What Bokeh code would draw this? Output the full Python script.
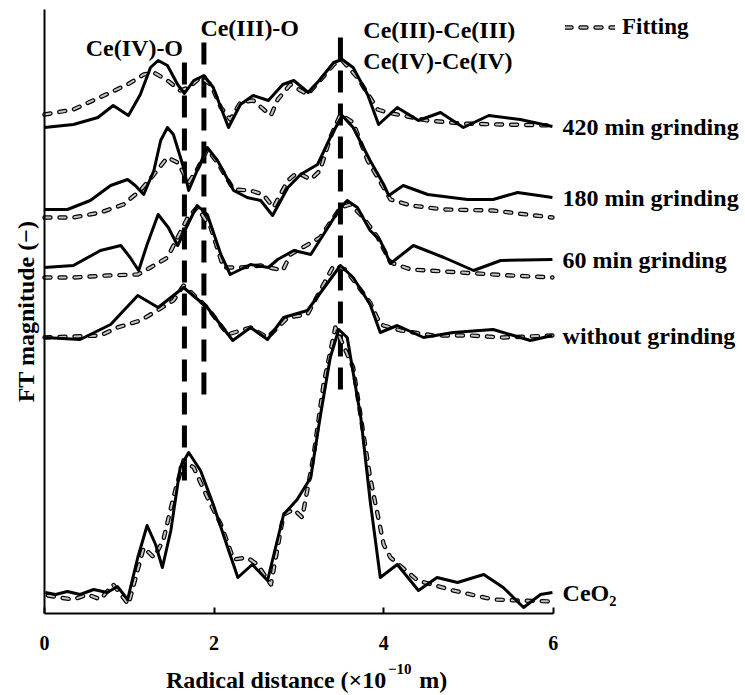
from bokeh.plotting import figure
from bokeh.models import Range1d, Label, Legend, LegendItem, FixedTicker
from bokeh.embed import file_html
from bokeh.resources import INLINE

FONT = "Liberation Serif"

# ---- data (x: radial distance / 1e-10 m, y: FT magnitude, offset per sample) ----
x_420 = [0.0, 0.34, 0.63, 0.81, 0.99, 1.13, 1.25, 1.34, 1.45, 1.57, 1.65, 1.76, 1.88, 1.99, 2.08, 2.17,
         2.31, 2.46, 2.64, 2.81, 2.94, 3.11, 3.25, 3.41, 3.51, 3.64, 3.81, 3.94, 4.16, 4.41, 4.67, 4.94,
         5.24, 5.61, 5.99]
y_420 = [4.86, 4.89, 4.96, 5.08, 4.98, 5.19, 5.46, 5.53, 5.48, 5.29, 5.20, 5.33, 5.38, 5.26, 5.06, 4.86,
         5.09, 5.18, 5.13, 5.29, 5.33, 5.21, 5.34, 5.51, 5.54, 5.46, 5.19, 4.89, 5.06, 4.93, 5.01, 4.86,
         4.98, 4.94, 4.87]
xf_420 = [0.0, 0.34, 0.70, 0.98, 1.17, 1.29, 1.45, 1.60, 1.70, 1.84, 1.96, 2.08, 2.19, 2.31, 2.46, 2.67,
          2.75, 2.90, 3.10, 3.25, 3.41, 3.51, 3.69, 3.84, 3.93, 4.04, 4.52, 4.91, 5.38, 5.99]
yf_420 = [4.99, 5.04, 5.18, 5.29, 5.39, 5.41, 5.33, 5.23, 5.26, 5.36, 5.29, 5.06, 4.94, 5.11, 5.13, 4.98,
          5.14, 5.29, 5.19, 5.33, 5.49, 5.53, 5.36, 5.16, 5.04, 5.01, 4.93, 4.90, 4.89, 4.88]

x_180 = [0.0, 0.27, 0.54, 0.78, 0.98, 1.07, 1.17, 1.29, 1.37, 1.45, 1.52, 1.64, 1.70, 1.80, 1.92, 2.04,
         2.23, 2.39, 2.55, 2.69, 2.87, 3.02, 3.22, 3.37, 3.51, 3.64, 3.84, 4.00, 4.06, 4.23, 4.52, 4.99,
         5.29, 5.58, 5.99]
y_180 = [4.04, 4.04, 4.13, 4.28, 4.34, 4.28, 4.19, 4.43, 4.73, 4.86, 4.79, 4.46, 4.23, 4.43, 4.66, 4.53,
         4.23, 4.16, 4.13, 3.98, 4.26, 4.39, 4.49, 4.76, 4.98, 4.86, 4.53, 4.29, 4.18, 4.28, 4.19, 4.14,
         4.14, 4.21, 4.16]
xf_180 = [0.0, 0.34, 0.66, 0.93, 1.13, 1.29, 1.45, 1.57, 1.70, 1.80, 1.92, 2.04, 2.23, 2.43, 2.58, 2.70,
          2.87, 2.98, 3.14, 3.25, 3.37, 3.49, 3.64, 3.81, 3.93, 4.08, 4.32, 4.71, 5.29, 5.99]
yf_180 = [3.96, 3.96, 4.01, 4.09, 4.23, 4.39, 4.56, 4.51, 4.31, 4.44, 4.64, 4.51, 4.24, 4.23, 4.19, 4.06,
          4.33, 4.41, 4.34, 4.43, 4.76, 4.99, 4.91, 4.53, 4.36, 4.14, 4.08, 4.04, 4.03, 3.96]

x_60 = [0.0, 0.34, 0.66, 0.90, 1.01, 1.11, 1.21, 1.34, 1.46, 1.57, 1.69, 1.80, 1.92, 2.08, 2.19, 2.43,
        2.64, 2.75, 2.94, 3.14, 3.29, 3.49, 3.57, 3.69, 3.84, 3.96, 4.08, 4.35, 4.71, 5.06, 5.38, 5.99]
y_60 = [3.46, 3.48, 3.63, 3.68, 3.56, 3.43, 3.69, 3.99, 3.86, 3.68, 3.89, 4.08, 3.99, 3.59, 3.39, 3.49,
        3.46, 3.54, 3.63, 3.59, 3.79, 4.06, 4.13, 4.06, 3.83, 3.73, 3.50, 3.68, 3.56, 3.43, 3.53, 3.54]
xf_60 = [0.0, 0.34, 0.74, 1.10, 1.25, 1.45, 1.57, 1.69, 1.80, 1.96, 2.11, 2.31, 2.55, 2.81, 2.90, 3.25,
         3.49, 3.61, 3.76, 3.93, 4.08, 4.32, 4.91, 5.50, 5.99]
yf_60 = [3.36, 3.36, 3.38, 3.39, 3.46, 3.56, 3.76, 3.96, 4.06, 3.86, 3.46, 3.46, 3.48, 3.43, 3.59, 3.76,
         4.06, 4.09, 3.96, 3.76, 3.51, 3.44, 3.41, 3.38, 3.36]

x_wo = [0.0, 0.42, 0.78, 1.10, 1.34, 1.64, 1.92, 2.22, 2.43, 2.63, 2.82, 3.10, 3.49, 3.64, 3.84, 3.96,
        4.16, 4.47, 4.82, 5.29, 5.73, 5.99]
y_wo = [2.76, 2.74, 2.89, 3.18, 3.06, 3.26, 3.06, 2.73, 2.86, 2.74, 2.96, 3.03, 3.48, 3.36, 3.09, 2.81,
        2.88, 2.76, 2.81, 2.84, 2.73, 2.78]
xf_wo = [0.0, 0.66, 0.86, 1.13, 1.33, 1.52, 1.64, 1.92, 2.16, 2.43, 2.63, 2.87, 3.10, 3.41, 3.55, 3.84,
         3.96, 4.20, 4.59, 5.02, 5.41, 5.99]
yf_wo = [2.76, 2.78, 2.86, 2.93, 3.03, 3.13, 3.28, 3.06, 2.79, 2.86, 2.76, 2.96, 2.99, 3.48, 3.44, 3.11,
         2.89, 2.83, 2.78, 2.78, 2.76, 2.78]

x_ceo2 = [0.01, 0.13, 0.27, 0.42, 0.58, 0.74, 0.86, 0.98, 1.10, 1.21, 1.31, 1.39, 1.49, 1.60, 1.70, 1.84,
          1.99, 2.16, 2.28, 2.45, 2.63, 2.82, 2.98, 3.14, 3.25, 3.37, 3.47, 3.57, 3.73, 3.84, 3.96, 4.16,
          4.41, 4.63, 4.87, 5.18, 5.41, 5.65, 5.85, 5.99]
y_ceo2 = [0.21, 0.19, 0.22, 0.19, 0.24, 0.21, 0.27, 0.14, 0.56, 0.88, 0.69, 0.46, 0.83, 1.46, 1.61, 1.43,
          1.09, 0.66, 0.36, 0.49, 0.33, 0.99, 1.14, 1.36, 1.96, 2.56, 2.84, 2.76, 1.96, 1.13, 0.36, 0.49,
          0.23, 0.36, 0.31, 0.39, 0.26, 0.06, 0.19, 0.21]
xf_ceo2 = [0.04, 0.17, 0.34, 0.51, 0.66, 0.81, 0.99, 1.17, 1.29, 1.40, 1.52, 1.64, 1.76, 1.92, 2.08, 2.23,
           2.39, 2.51, 2.67, 2.82, 2.94, 3.04, 3.17, 3.29, 3.43, 3.64, 3.84, 4.00, 4.08, 4.40, 4.82, 5.29,
           5.61, 5.99]
yf_ceo2 = [0.18, 0.16, 0.14, 0.19, 0.14, 0.29, 0.09, 0.66, 0.56, 0.73, 1.16, 1.53, 1.46, 1.16, 0.89, 0.54,
           0.56, 0.49, 0.29, 0.99, 1.04, 0.96, 1.56, 2.29, 2.86, 2.46, 1.36, 0.69, 0.56, 0.33, 0.23, 0.14,
           0.13, 0.12]

series_labels = ["420 min grinding", "180 min grinding", "60 min grinding", "without grinding", "CeO\u2082"]

# reference lines (bond assignments)
ref_x = [1.65, 1.88, 3.49]
ref_y_top = [5.51, 5.71, 5.76]
ref_y_bottom = [1.28, 2.13, 2.18]
ref_names = ["Ce(IV)-O", "Ce(III)-O", "Ce(III)-Ce(III)", "Ce(IV)-Ce(IV)"]

x_ticks = [0, 2, 4, 6]
x_min, x_max = 0, 6
y_min, y_max = 0, 6.04

TXT = dict(text_font=FONT, text_font_style="bold", text_color="black")

# ---- figure: the frame covers the canvas, axes are fixed at the data origin ----
p = figure(width=745, height=695, output_backend="svg", toolbar_location=None,
           x_range=Range1d(-0.519, 8.267), y_range=Range1d(-0.82, 6.13),
           min_border=0)
p.outline_line_color = None
p.grid.visible = False
p.background_fill_color = "white"

p.xaxis.fixed_location = 0
p.xaxis.bounds = (x_min, x_max)
p.xaxis.ticker = FixedTicker(ticks=x_ticks)
p.xaxis.major_tick_in = 6
p.xaxis.major_tick_out = 0
p.xaxis.minor_tick_line_color = None
p.xaxis.major_tick_line_width = 2
p.xaxis.axis_line_width = 2
p.xaxis.axis_line_color = "black"
p.xaxis.major_label_text_font = FONT
p.xaxis.major_label_text_font_style = "bold"
p.xaxis.major_label_text_font_size = "20px"
p.xaxis.major_label_text_color = "black"
p.xaxis.major_label_standoff = 22

p.yaxis.fixed_location = 0
p.yaxis.bounds = (y_min, y_max)
p.yaxis.ticker = FixedTicker(ticks=[])
p.yaxis.major_tick_line_color = None
p.yaxis.minor_tick_line_color = None
p.yaxis.axis_line_width = 2
p.yaxis.axis_line_color = "black"
p.yaxis.axis_label = "FT magnitude (\u2212)"
p.yaxis.axis_label_text_font = FONT
p.yaxis.axis_label_text_font_style = "bold"
p.yaxis.axis_label_text_font_size = "24px"
p.yaxis.axis_label_text_color = "black"
p.yaxis.axis_label_standoff = 6

# x-axis title (with a raised exponent)
p.add_layout(Label(x=4.03, y=-0.66, text="Radical distance (\u00d710", text_font_size="24px",
                   text_align="right", text_baseline="alphabetic", **TXT))
p.add_layout(Label(x=4.05, y=-0.55, text="\u221210", text_font_size="15px",
                   text_align="left", text_baseline="alphabetic", **TXT))
p.add_layout(Label(x=4.42, y=-0.66, text="m)", text_font_size="24px",
                   text_align="left", text_baseline="alphabetic", **TXT))

# reference dashed verticals
for xv, yt, yb in zip(ref_x, ref_y_top, ref_y_bottom):
    p.line([xv, xv], [yt, yb], line_color="black", line_width=5, line_dash="22 11")

solid = [(x_420, y_420), (x_180, y_180), (x_60, y_60), (x_wo, y_wo), (x_ceo2, y_ceo2)]
fits = [(xf_420, yf_420), (xf_180, yf_180), (xf_60, yf_60), (xf_wo, yf_wo), (xf_ceo2, yf_ceo2)]

fit_renderers = None
for (xs, ys) in fits:
    r1 = p.line(xs, ys, line_color="black", line_width=4.4, line_dash="6 9", line_cap="round",
                line_join="round")
    r2 = p.line(xs, ys, line_color="#c4c4c4", line_width=2.0, line_dash="6 9", line_cap="round",
                line_join="round")
    if fit_renderers is None:
        fit_renderers = [r1, r2]

for (xs, ys) in solid:
    p.line(xs, ys, line_color="black", line_width=3, line_join="round")

# series labels at the right end of each curve
for (xs, ys), lab in zip(solid, series_labels):
    p.add_layout(Label(x=6.11, y=ys[-1], text=lab, text_font_size="24px", text_baseline="middle",
                       text_align="left", **TXT))

# bond labels
p.add_layout(Label(x=1.06, y=5.66, text=ref_names[0], text_font_size="24px",
                   text_baseline="middle", text_align="center", **TXT))
p.add_layout(Label(x=2.42, y=5.86, text=ref_names[1], text_font_size="24px",
                   text_baseline="middle", text_align="center", **TXT))
p.add_layout(Label(x=3.76, y=5.84, text=ref_names[2], text_font_size="24px",
                   text_baseline="middle", text_align="left", **TXT))
p.add_layout(Label(x=3.76, y=5.53, text=ref_names[3], text_font_size="24px",
                   text_baseline="middle", text_align="left", **TXT))

legend = Legend(items=[LegendItem(label="Fitting", renderers=fit_renderers)],
                location=(565, 655), glyph_width=50, glyph_height=20, padding=0, margin=0,
                label_standoff=7, label_text_font=FONT, label_text_font_style="bold",
                label_text_color="black", label_text_font_size="23px",
                background_fill_alpha=0, border_line_alpha=0)
p.add_layout(legend)

open("out.html", "w").write(file_html(p, INLINE))
